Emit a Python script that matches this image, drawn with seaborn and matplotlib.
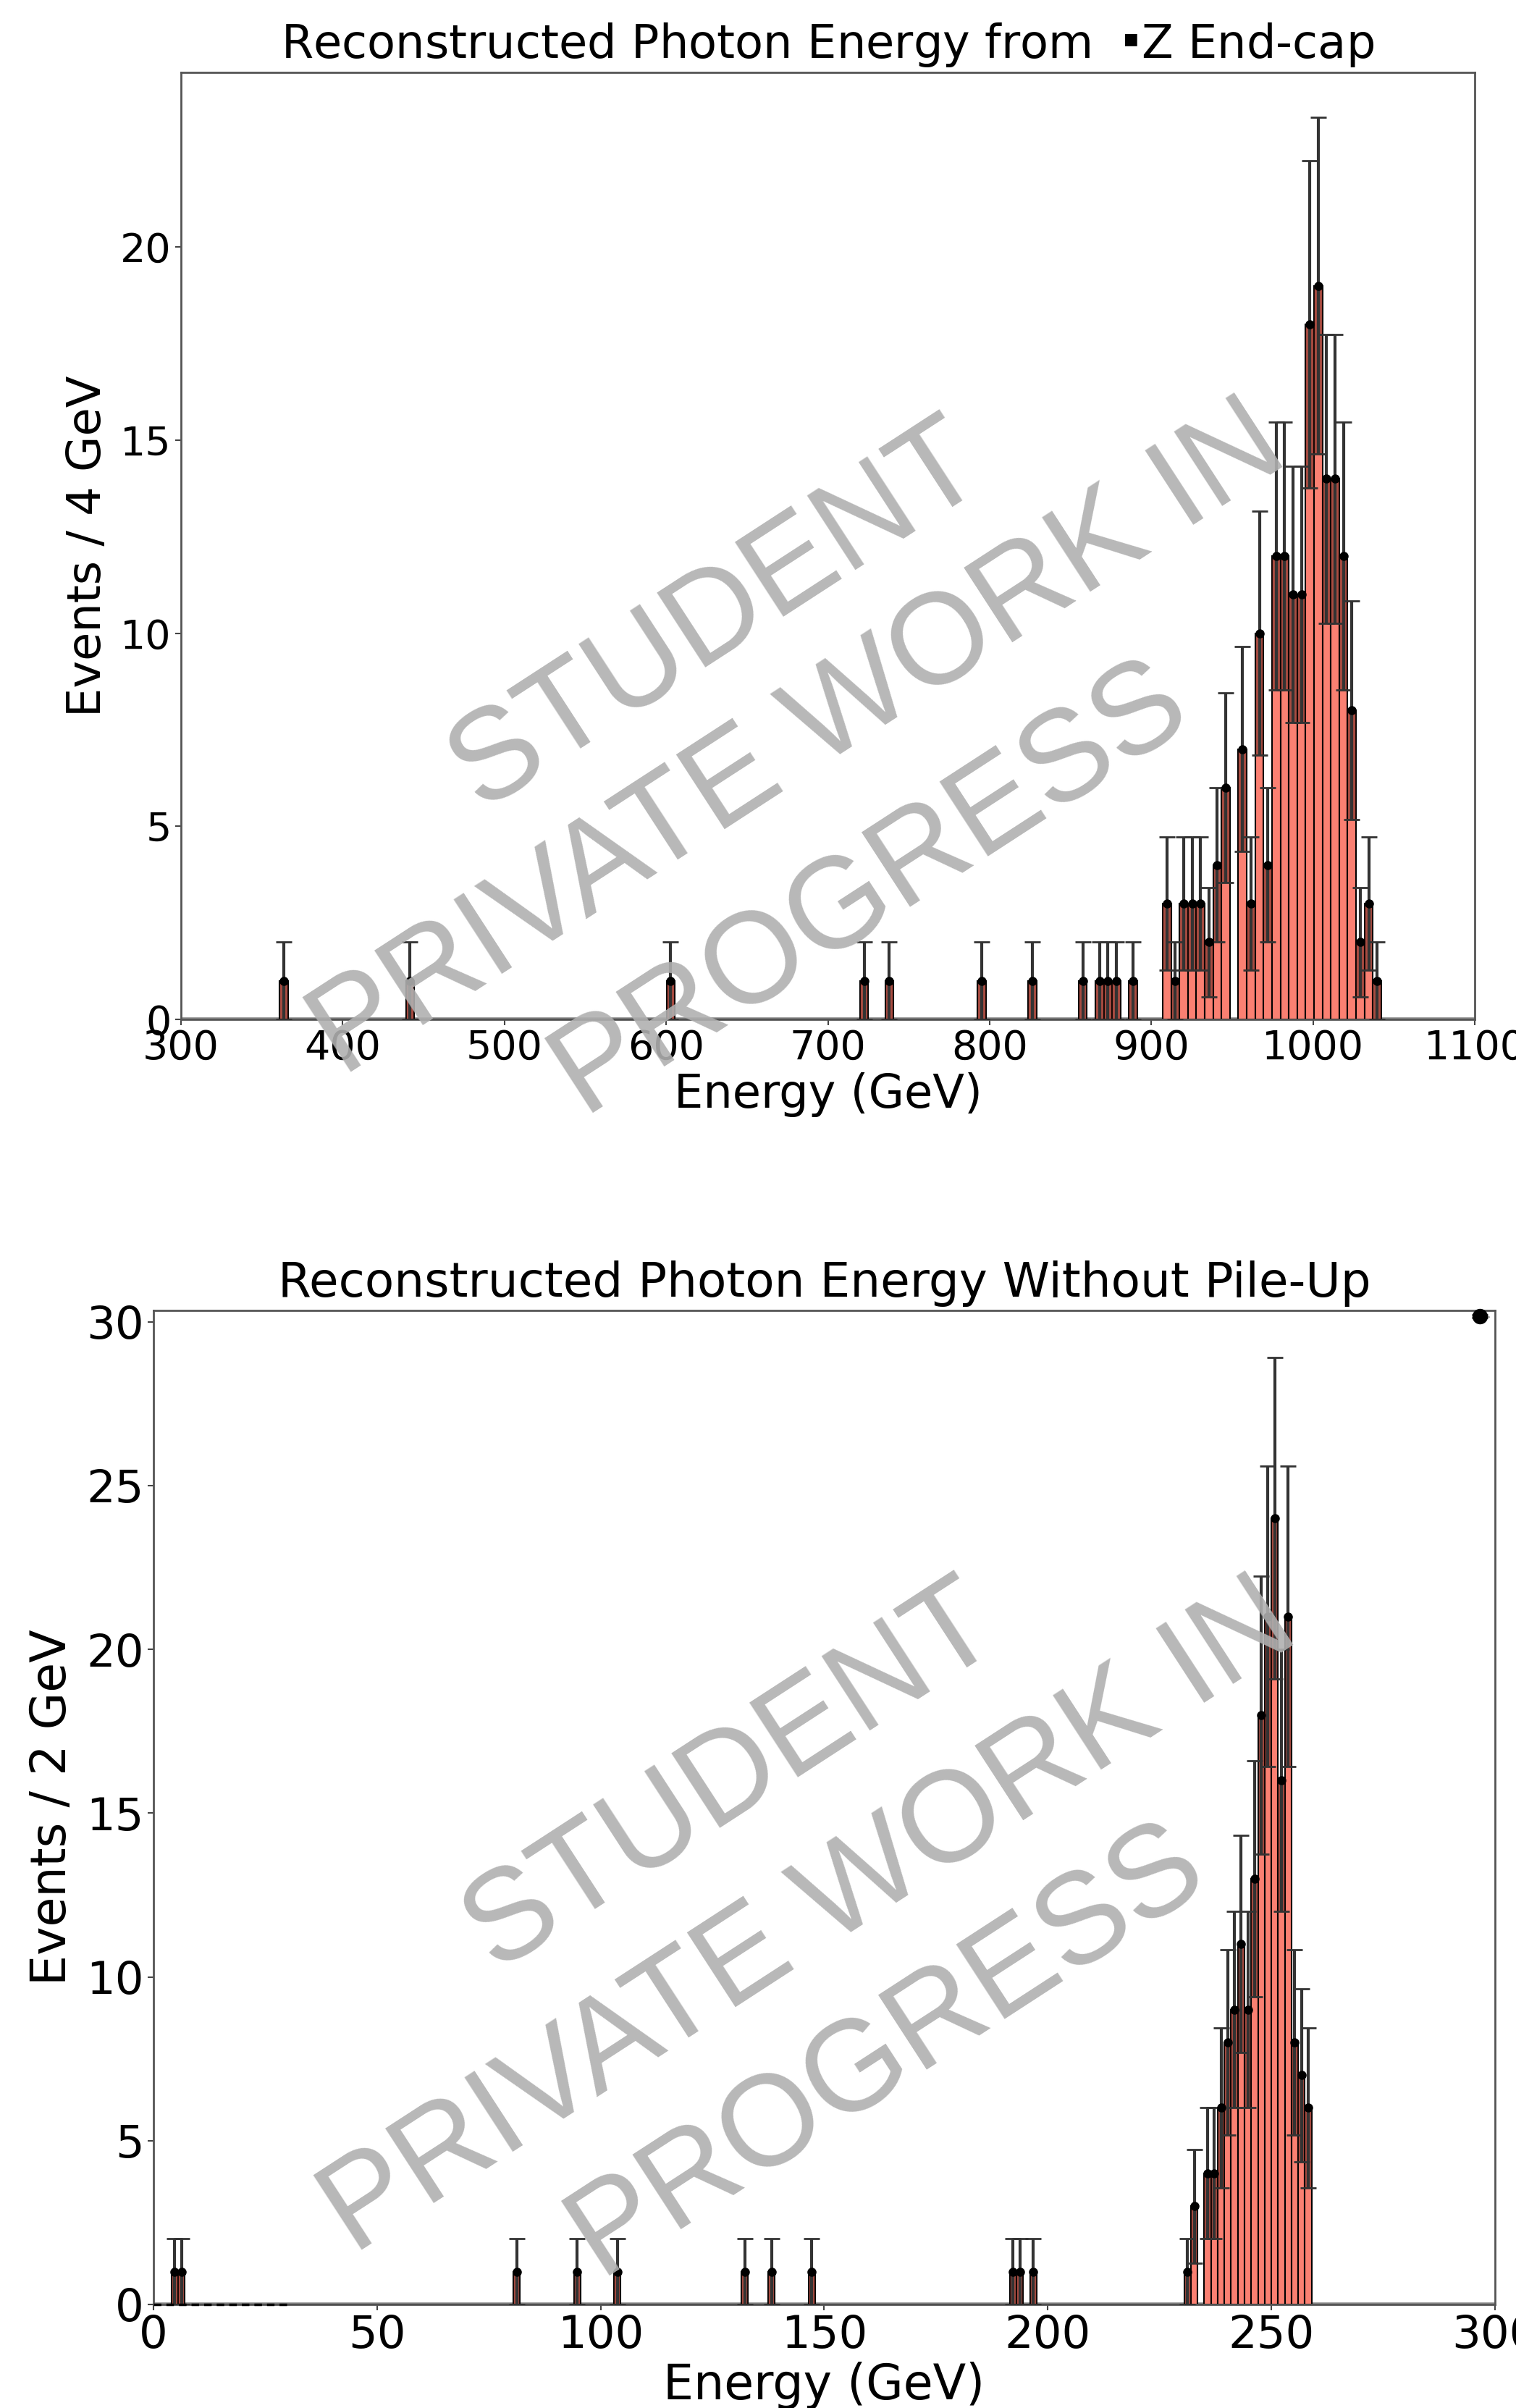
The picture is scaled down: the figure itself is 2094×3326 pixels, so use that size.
import numpy as np
import pandas as pd
import seaborn as sns
import matplotlib
matplotlib.use("Agg")
import matplotlib.pyplot as plt

# Top panel: -Z end-cap, bin centres (GeV) of non-empty bins and their counts
top_energy = [363.6, 441.6, 602.8, 722.4, 738.0, 795.2, 826.4, 857.6, 868.0, 873.2,
              878.4, 888.8, 909.6, 914.8, 920.0, 925.2, 930.4, 935.6, 940.8, 946.0,
              956.4, 961.6, 966.8, 972.0, 977.2, 982.4, 987.6, 992.8, 998.0, 1003.2,
              1008.4, 1013.6, 1018.8, 1024.0, 1029.2, 1034.4, 1039.6]
top_events = [1, 1, 1, 1, 1, 1, 1, 1, 1, 1,
              1, 1, 3, 1, 3, 3, 3, 2, 4, 6,
              7, 3, 10, 4, 12, 12, 11, 11, 18, 19,
              14, 14, 12, 8, 2, 3, 1]
top_range = (361.0, 1042.2)
top_binw = 5.2

# Bottom panel: without pile-up
bot_energy = [4.75, 6.25, 81.25, 94.75, 103.75, 132.25, 138.25, 147.25, 192.25, 193.75,
              196.75, 231.25, 232.75, 235.75, 237.25, 238.75, 240.25, 241.75, 243.25, 244.75,
              246.25, 247.75, 249.25, 250.75, 252.25, 253.75, 255.25, 256.75, 258.25]
bot_events = [1, 1, 1, 1, 1, 1, 1, 1, 1, 1,
              1, 1, 3, 4, 4, 6, 8, 9, 11, 9,
              13, 18, 21, 24, 16, 21, 8, 7, 6]
bot_range = (4.0, 259.0)
bot_binw = 1.5

# flat fit line drawn near the origin of the bottom panel
fit_x = [0, 30]
fit_y = [0, 0]

watermark = ["STUDENT", "PRIVATE WORK IN", "PROGRESS"]

fig = plt.figure(figsize=(20.94, 33.26), dpi=100)
ax1 = fig.add_axes([0.1194, 0.5767, 0.8534, 0.3933])
ax2 = fig.add_axes([0.1012, 0.0430, 0.8849, 0.4128])


def draw_panel(ax, energy, events, rng, binw, title, ylabel, xlim, xticks, yticks,
               tick_fs, label_fs, title_fs):
    df = pd.DataFrame({"energy": energy, "events": events})
    err = np.sqrt(df["events"].values)

    ax.axhline(0, color="#888888", lw=4, zorder=0)
    sns.histplot(data=df, x="energy", weights="events", binwidth=binw, binrange=rng,
                 color="salmon", edgecolor="black", linewidth=1.5, alpha=1.0, ax=ax)
    # darker band for the lower half of the uncertainty inside each bar
    ax.bar(df["energy"], err, bottom=df["events"] - err, width=binw,
           color="#5a1a12", alpha=0.5, edgecolor="black", linewidth=1.2, zorder=3)
    ax.errorbar(df["energy"], df["events"], yerr=err, fmt="o", color="black",
                ecolor="#333333", elinewidth=3, capsize=8, capthick=2, ms=8,
                zorder=4, label="Data")

    ax.set_xlim(*xlim)
    ax.set_ylim(bottom=0)
    ax.set_xticks(xticks)
    ax.set_yticks(yticks)
    ax.set_title(title, fontsize=title_fs, pad=14)
    ax.set_xlabel("Energy (GeV)", fontsize=label_fs, labelpad=4)
    ax.set_ylabel(ylabel, fontsize=label_fs, labelpad=10)
    ax.tick_params(labelsize=tick_fs, length=6, width=1.5, color="#444444")
    for s in ax.spines.values():
        s.set_color("#555555")
        s.set_linewidth(2)


draw_panel(ax1, top_energy, top_events, top_range, top_binw,
           r"Reconstructed Photon Energy from  $_{^{^{\blacksquare}}}$Z End-cap", "Events / 4 GeV",
           (300, 1100), range(300, 1101, 100), range(0, 21, 5), 40, 46, 46)
draw_panel(ax2, bot_energy, bot_events, bot_range, bot_binw,
           "Reconstructed Photon Energy Without Pile-Up", "Events / 2 GeV",
           (0, 300), range(0, 301, 50), range(0, 31, 5), 45, 48, 47.5)

ax2.plot(fit_x, fit_y, color="black", ls=(0, (3, 2)), lw=2.5, zorder=6, clip_on=False)
ax2.legend(loc="upper right", fontsize=3, frameon=False, handlelength=0.6,
           markerscale=1.8, borderaxespad=1.2)

# watermark
wm_pos = [[(0.473, 0.744), (0.527, 0.692), (0.574, 0.632)],
          [(0.483, 0.262), (0.534, 0.203), (0.585, 0.149)]]
for panel in wm_pos:
    for (x, y), txt in zip(panel, watermark):
        fig.text(x, y, txt, fontsize=128, family="Liberation Sans", color="#b0b0b0",
                 alpha=0.9, rotation=33, rotation_mode="anchor",
                 ha="center", va="center", zorder=10)

fig.savefig("out.png", dpi=100)
